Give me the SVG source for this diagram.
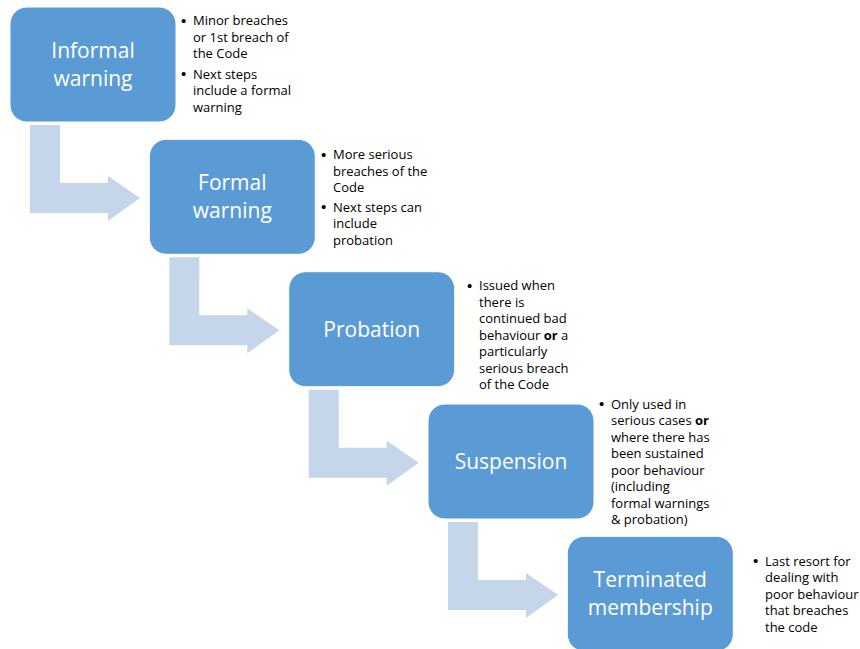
<svg xmlns="http://www.w3.org/2000/svg" xmlns:xlink="http://www.w3.org/1999/xlink" width="860" height="649" viewBox="0 0 860 649">
<style>
.box{fill:#5B9BD5;stroke:#ffffff;stroke-width:1}
.arrow{fill:#C5D5EA}
.lbl{font-family:"Open Sans","Liberation Sans",sans-serif;font-size:21px;fill:#ffffff;text-anchor:middle}
.txt{font-family:"Open Sans","Liberation Sans",sans-serif;font-size:13px;fill:#000000}
.bu{font-family:"Liberation Sans",sans-serif;font-size:15px}
.b{font-weight:bold}
</style>
<defs>
<path id="arr" d="M30,125 H60 V183 H108 V176 L140,198 L108,221 V213 H30 Z"/>
</defs>
<rect width="860" height="649" fill="#ffffff"/>
<g id="connectors">
<use xlink:href="#arr" class="arrow"/>
<use xlink:href="#arr" class="arrow" transform="translate(139.3,132.3)"/>
<use xlink:href="#arr" class="arrow" transform="translate(278.7,264.7)"/>
<use xlink:href="#arr" class="arrow" transform="translate(418,397)"/>
</g>
<g id="node1">
<rect class="box" x="10" y="7" width="166" height="115" rx="17"/>
<text class="lbl" x="93" y="58">Informal</text>
<text class="lbl" x="93" y="86">warning</text>
<g class="txt">
<text class="bu" x="181" y="25.5">•</text>
<text x="193" y="25">Minor breaches</text>
<text x="193" y="41.5">or 1st breach of</text>
<text x="193" y="58">the Code</text>
<text class="bu" x="181" y="79">•</text>
<text x="193" y="78.5">Next steps</text>
<text x="193" y="95">include a formal</text>
<text x="193" y="111.5">warning</text>
</g>
</g>
<g id="node2">
<rect class="box" x="149.3" y="139.3" width="166" height="115" rx="17"/>
<text class="lbl" x="232.3" y="190">Formal</text>
<text class="lbl" x="232.3" y="218">warning</text>
<g class="txt">
<text class="bu" x="321" y="159.5">•</text>
<text x="333" y="159">More serious</text>
<text x="333" y="175.5">breaches of the</text>
<text x="333" y="192">Code</text>
<text class="bu" x="321" y="212">•</text>
<text x="333" y="211.5">Next steps can</text>
<text x="333" y="228">include</text>
<text x="333" y="244.5">probation</text>
</g>
</g>
<g id="node3">
<rect class="box" x="288.7" y="271.7" width="166" height="115" rx="17"/>
<text class="lbl" x="371.7" y="337">Probation</text>
<g class="txt">
<text class="bu" x="467" y="290.5">•</text>
<text x="479" y="290">Issued when</text>
<text x="479" y="306.5">there is</text>
<text x="479" y="323">continued bad</text>
<text x="479" y="339.5">behaviour <tspan class="b">or</tspan> a</text>
<text x="479" y="356">particularly</text>
<text x="479" y="372.5">serious breach</text>
<text x="479" y="389">of the Code</text>
</g>
</g>
<g id="node4">
<rect class="box" x="428" y="404" width="166" height="115" rx="17"/>
<text class="lbl" x="511" y="469">Suspension</text>
<g class="txt">
<text class="bu" x="599" y="409">•</text>
<text x="611" y="408.5">Only used in</text>
<text x="611" y="425">serious cases <tspan class="b">or</tspan></text>
<text x="611" y="441.5">where there has</text>
<text x="611" y="458">been sustained</text>
<text x="611" y="474.5">poor behaviour</text>
<text x="611" y="491">(including</text>
<text x="611" y="507.5">formal warnings</text>
<text x="611" y="524">&amp; probation)</text>
</g>
</g>
<g id="node5">
<rect class="box" x="567.3" y="536.3" width="166" height="115" rx="17"/>
<text class="lbl" x="650.3" y="587">Terminated</text>
<text class="lbl" x="650.3" y="615">membership</text>
<g class="txt">
<text class="bu" x="753" y="566">•</text>
<text x="765" y="565.5">Last resort for</text>
<text x="765" y="582">dealing with</text>
<text x="765" y="598.5">poor behaviour</text>
<text x="765" y="615">that breaches</text>
<text x="765" y="631.5">the code</text>
</g>
</g>
</svg>
